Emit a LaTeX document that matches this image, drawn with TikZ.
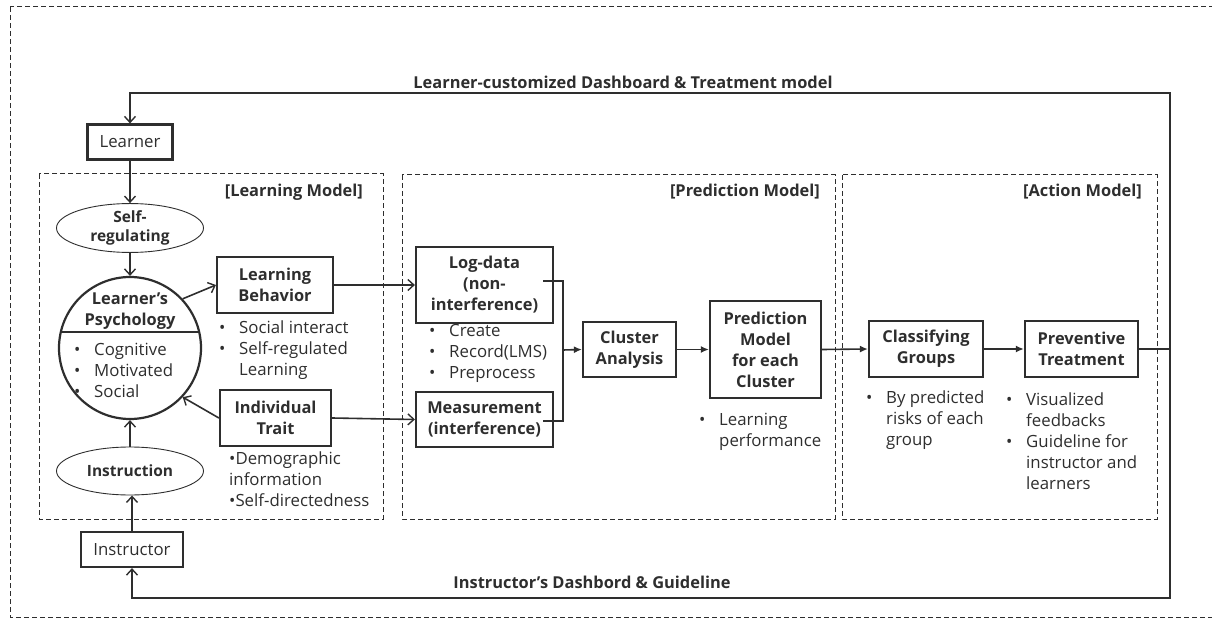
\documentclass[tikz,border=0pt]{standalone}
\usepackage{fontspec}
\setmainfont{Open Sans}
\usetikzlibrary{arrows.meta,shapes.geometric,calc}
\definecolor{ink}{gray}{0.18}
\newcommand\bitem{\makebox[20pt][l]{\textbullet}}
\begin{document}
\begin{tikzpicture}[x=1pt,y=-1pt,
  every node/.style={text=ink},
  fnt/.style={font=\fontsize{16.8}{21}\selectfont},
  bfnt/.style={font=\fontsize{16.4}{21}\selectfont\bfseries},
  box/.style={draw=ink,line width=2.2pt,align=center,inner sep=0pt,bfnt},
  plainbox/.style={draw=ink,line width=2.2pt,align=center,inner sep=0pt,fnt},
  oval/.style={draw=ink,ellipse,line width=0.9pt,inner sep=0pt,align=center,
     font=\fontsize{15.5}{19}\selectfont\bfseries},
  zone/.style={draw=ink,dashed,dash pattern=on 5pt off 3pt,line width=1pt},
  lst/.style={anchor=west,align=left,inner sep=0pt,fnt},
  lab/.style={anchor=east,inner sep=0pt,bfnt},
  con/.style={draw=ink,line width=1.6pt},
  oarr/.style={con,-{Straight Barb[length=6pt,width=11pt,line width=1.4pt]}},
  farr/.style={con,-{Latex[length=8pt,width=7pt]}},
]
\useasboundingbox (0,0) rectangle (1212,620);
\clip (0,0) rectangle (1212,620);

% dashed zones
\draw[zone] (10,7) rectangle (1230,617);
\draw[zone] (39,174) rectangle (383,519);
\draw[zone] (402,175) rectangle (835,519);
\draw[zone] (842,175) rectangle (1157,519);
\node[lab] (lml) at (363,192) {[Learning Model]};
\node[lab] (pml) at (820,192) {[Prediction Model]};
\node[lab] (aml) at (1142,192) {[Action Model]};

% learning model
\node[plainbox,minimum width=85pt,minimum height=35pt] (learner) at (130,142) {Learner};
\node[oval,minimum width=147pt,minimum height=47pt] (sr) at (130,228) {Self-\\regulating};
\node[circle,draw=ink,line width=2.2pt,minimum size=142pt,inner sep=0pt] (psy) at (130,348) {};
\draw[ink,line width=1.6pt] (psy.167) -- (psy.13);
\node[align=center,inner sep=0pt,bfnt] (psyt) at (130,311) {Learner’s\\Psychology};
\node[lst] (psyl) at (74,370) {\bitem Cognitive\\\bitem Motivated\\\bitem Social};
\node[oval,minimum width=147pt,minimum height=48pt] (ins) at (130,471) {Instruction};
\node[plainbox,minimum width=102pt,minimum height=35pt] (instr) at (132,549.5) {Instructor};

\node[box,minimum width=116pt,minimum height=56pt] (lb) at (275,285) {Learning\\Behavior};
\node[lst] (lbl) at (219,350) {\bitem Social interact\\\bitem Self-regulated\\\hspace*{20pt}Learning};
\node[box,minimum width=111pt,minimum height=56pt] (it) at (275.5,418) {Individual\\Trait};
\node[lst] (itl) at (229,479) {\textbullet Demographic\\information\\\textbullet Self-directedness};

% prediction model
\node[box,minimum width=137pt,minimum height=76pt] (log) at (484.5,285) {Log-data\\(non-\\interference)};
\node[lst] (logl) at (429,353) {\bitem Create\\\bitem Record(LMS)\\\bitem Preprocess};
\node[box,minimum width=137pt,minimum height=55pt] (meas) at (484.5,419.5) {Measurement\\(interference)};
\node[box,minimum width=93pt,minimum height=55pt] (ca) at (629.5,349.5) {Cluster\\Analysis};
\node[box,minimum width=111pt,minimum height=97pt] (pm) at (765.5,349.5) {Prediction\\Model\\for each\\Cluster};
\node[lst] (pmlst) at (699,432) {\bitem Learning\\\hspace*{20pt}performance};

% action model
\node[box,minimum width=114pt,minimum height=56pt] (cg) at (926,349) {Classifying\\Groups};
\node[lst] (cgl) at (866,420) {\bitem By predicted\\\hspace*{20pt}risks of each\\\hspace*{20pt}group};
\node[box,minimum width=113pt,minimum height=56pt] (pt) at (1081.5,349) {Preventive\\Treatment};
\node[lst] (ptl) at (1006,441) {\bitem Visualized\\\hspace*{20pt}feedbacks\\\bitem Guideline for\\\hspace*{20pt}instructor and\\\hspace*{20pt}learners};

% feedback loop
\coordinate (tr) at (1170,93);
\coordinate (br) at (1170,597.5);
\coordinate (rj) at (1170,349);
\node[bfnt,inner sep=0pt] (toplab) at (623,82) {Learner-customized Dashboard \& Treatment model};
\node[bfnt,inner sep=0pt] (botlab) at (592,582) {Instructor’s Dashbord \& Guideline};
\draw[con,line width=2pt] (pt.east) -- (rj);
\draw[oarr,line width=2pt] (rj) -- (tr) -| (learner.north);
\draw[oarr,line width=2pt] (rj) -- (br) -| (instr.south);

% learning model arrows
\draw[oarr] (learner.south) -- (sr.north);
\draw[oarr] (sr.south) -- (psy.north);
\draw[oarr] (ins.north) -- (psy.south);
\draw[oarr] (instr.north) -- (instr.north |- ins.south);
\draw[oarr] (psy.43) -- (lb.west);
\draw[oarr] (it.west) -- (psy.-43);

% prediction arrows
\draw[oarr] (lb.east) -- (log.west);
\draw[oarr] (it.east) -- (meas.west);
\coordinate (jx) at (563,350);
\draw[con] ($(log.east)+(-11,-4)$) -| (jx) |- ($(meas.east)+(-11,1.5)$);
\draw[farr] (jx) -- (ca.west);
\draw[farr] (ca.east) -- (pm.west);
\draw[farr] (pm.east) -- (cg.west);
\draw[farr] (cg.east) -- (pt.west);
\end{tikzpicture}
\end{document}
